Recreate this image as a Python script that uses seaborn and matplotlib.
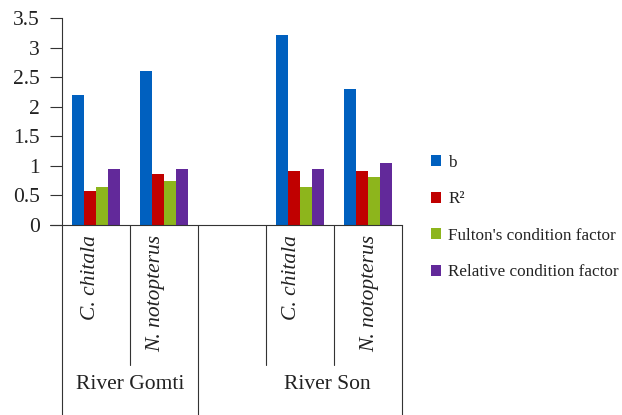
import matplotlib
matplotlib.use('Agg')
import numpy as np
import pandas as pd
import matplotlib.pyplot as plt
import matplotlib.transforms as mtransforms
import seaborn as sns

# data
slots = ['Gomti_C', 'Gomti_N', 'gap', 'Son_C', 'Son_N']
species = ['C. chitala', 'N. notopterus', '', 'C. chitala', 'N. notopterus']
rivers = ['River Gomti', 'River Son']
series = ['b', 'R²', "Fulton's condition factor", 'Relative condition factor']
b_vals = [2.2, 2.6, np.nan, 3.21, 2.3]
r2_vals = [0.58, 0.86, np.nan, 0.91, 0.92]
fulton_vals = [0.64, 0.74, np.nan, 0.64, 0.81]
rel_vals = [0.94, 0.95, np.nan, 0.94, 1.04]
yticks = [0, 0.5, 1, 1.5, 2, 2.5, 3, 3.5]
ytick_labels = ['0', '0.5', '1', '1.5', '2', '2.5', '3', '3.5']
colors = ['#0060BF', '#C00000', '#8DB51C', '#62299A']

rows = []
for name, vals in zip(series, [b_vals, r2_vals, fulton_vals, rel_vals]):
    for s, v in zip(slots, vals):
        if not np.isnan(v):
            rows.append({'slot': s, 'series': name, 'value': v})
df = pd.DataFrame(rows)

sns.set_style('white')
plt.rcParams['font.family'] = ['Liberation Serif', 'DejaVu Serif']

fig = plt.figure(figsize=(6.22, 4.15), dpi=100)
ax = fig.add_axes([0.0997, 0.458, 0.5466, 0.4986])

sns.barplot(data=df, x='slot', y='value', hue='series', order=slots,
            hue_order=series, palette=colors, saturation=1, width=0.72,
            errorbar=None, linewidth=0, ax=ax)

ax.set_xlim(-0.5, 4.5)
ax.set_ylim(0, 3.5)
ax.set_yticks(yticks)
ax.set_yticklabels(ytick_labels, fontsize=15.5, color='#222222')
ax.set_xticks([])
ax.set_xlabel('')
ax.set_ylabel('')
ax.tick_params(axis='y', direction='out', length=9, width=0.8,
               color='#333333', pad=7, left=True)
for side in ['top', 'right']:
    ax.spines[side].set_visible(False)
for side in ['left', 'bottom']:
    ax.spines[side].set_color('#333333')
    ax.spines[side].set_linewidth(0.8)

# two-level category axis below
trans = mtransforms.blended_transform_factory(ax.transData, ax.transAxes)
ax.plot([-0.5 - 0.18, -0.5], [0, 0], transform=trans, color='#333333',
        lw=0.8, clip_on=False)
for x in [-0.5, 1.5, 4.5]:
    ax.plot([x, x], [0, -0.93], transform=trans, color='#333333', lw=0.8,
            clip_on=False)
for x in [0.5, 2.5, 3.5]:
    ax.plot([x, x], [0, -0.676], transform=trans, color='#333333', lw=0.8,
            clip_on=False)

offsets = [-0.08, -0.12, 0, -0.12, 0.03]
for i, name in enumerate(species):
    if name:
        ax.text(i + offsets[i], -0.05, name, transform=trans, rotation=90,
                ha='center', va='top', fontsize=15.5, style='italic',
                color='#222222')
for x, name in zip([0.5, 3.4], rivers):
    ax.text(x, -0.77, name, transform=trans, ha='center', va='center',
            fontsize=15.5, color='#222222')

handles, labels = ax.get_legend_handles_labels()
ax.legend(handles, labels, loc='center left', bbox_to_anchor=(1.085, 0.035),
          frameon=False, fontsize=12.3, handlelength=0.62, handleheight=0.62,
          handletextpad=0.4, labelspacing=1.2, borderpad=0, borderaxespad=0,
          labelcolor='#222222')

plt.savefig('out.png', dpi=100)
